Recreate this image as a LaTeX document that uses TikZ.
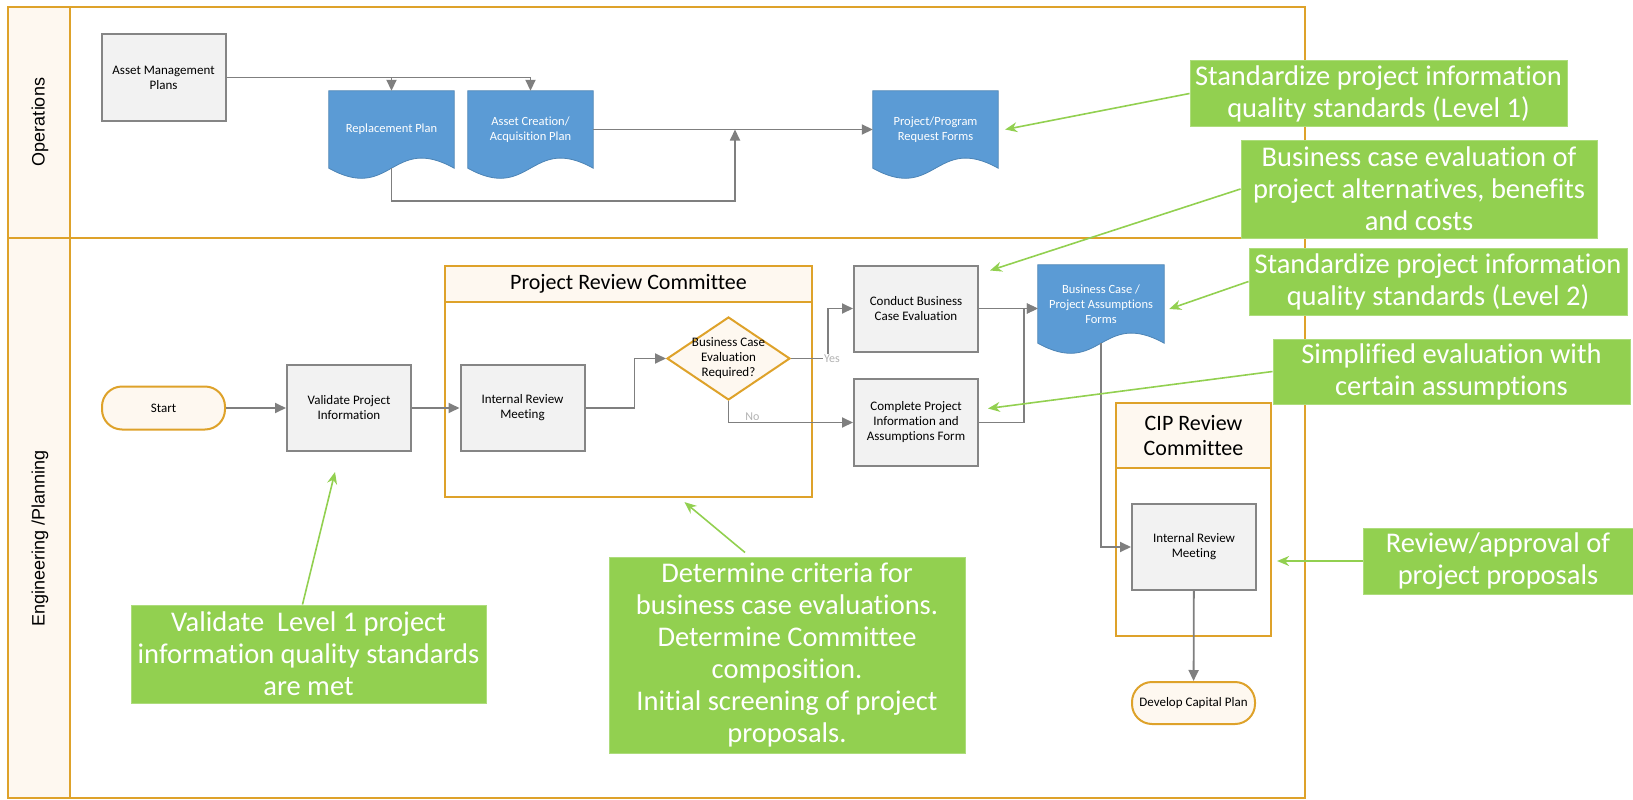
\documentclass[tikz,border=0pt]{standalone}
\usepackage{fontspec}
\setmainfont{Carlito}[Ligatures=NoCommon]
\newfontfamily\lanefont{Liberation Sans}
\usetikzlibrary{shapes.geometric, arrows.meta, positioning, backgrounds, calc}

\definecolor{lanegold}{HTML}{DEA22A}
\definecolor{lanecream}{HTML}{FEF8F0}
\definecolor{procgray}{HTML}{F2F2F2}
\definecolor{procedge}{HTML}{858585}
\definecolor{docblue}{HTML}{5B9BD5}
\definecolor{notegreen}{HTML}{92D050}
\definecolor{flowgray}{HTML}{7F7F7F}

\begin{document}
\begin{tikzpicture}[x=1pt, y=-1pt,
    procbox/.style={draw=procedge, fill=procgray, line width=2pt,
                    minimum width=124pt, minimum height=86pt, inner sep=1pt,
                    font=\fontsize{13}{15}\selectfont, align=center},
    docbox/.style={minimum width=125pt, minimum height=77pt, inner sep=1pt,
                   text=white, font=\fontsize{12.5}{15}\selectfont, align=center},
    termbox/.style={draw=lanegold, fill=lanecream, line width=2pt, rounded corners=20pt,
                    minimum width=123pt, minimum height=43pt, inner sep=1pt,
                    font=\fontsize{13}{15}\selectfont},
    decision/.style={diamond, draw=lanegold, fill=lanecream, line width=2pt,
                     minimum width=123pt, minimum height=83pt, inner sep=0pt},
    groupbox/.style={draw=lanegold, line width=2.2pt, inner sep=0pt},
    headbox/.style={draw=lanegold, fill=lanecream, line width=2.2pt, inner sep=0pt,
                    font=\fontsize{22}{25}\selectfont, align=center},
    notebox/.style={fill=notegreen, draw=notegreen!75!white, line width=1pt, text=white,
                    inner sep=1pt, font=\fontsize{28.5}{32}\selectfont, align=center},
    flow/.style={draw=flowgray, line width=1.8pt, -{Triangle[length=11pt, width=10pt]}},
    noteline/.style={draw=notegreen, line width=1.6pt, -{Stealth[length=12pt, width=10pt]}},
    branch/.style={font=\fontsize{12}{14}\selectfont, text=flowgray!60, inner sep=1pt},
    lanetext/.style={font=\lanefont\fontsize{18}{20}\selectfont, rotate=90}
  ]
  \useasboundingbox (0,0) rectangle (1633,800);

  \begin{scope}[on background layer]
    \fill[lanecream] (8,7) rectangle (70,798);
    \draw[lanegold, line width=2.2pt] (8,7) rectangle (1305,798);
    \draw[lanegold, line width=2.2pt] (70,7) -- (70,798);
    \draw[lanegold, line width=2.2pt] (8,238) -- (1305,238);
  \end{scope}

  \node[lanetext] (opslbl) at (40,122) {Operations};
  \node[lanetext] (englbl) at (40,538) {Engineering /Planning};

  \node[procbox] (amp) at (163.5,77.5) {Asset Management\\Plans};
  \node[docbox] (rp) at (391.5,129.5) {Replacement Plan};
  \node[docbox] (acp) at (530.5,129.5) {Asset Creation/\\Acquisition Plan};
  \node[docbox] (prf) at (935.5,129.5) {Project/Program\\Request Forms};
  \coordinate (merge) at (735,129.5);

  \node[termbox] (start) at (163.5,408) {Start};
  \node[procbox] (vpi) at (349,408) {Validate Project\\Information};
  \node[groupbox, minimum width=367pt, minimum height=231pt] (prc) at (628.5,381.5) {};
  \node[headbox, minimum width=367pt, minimum height=36pt] (prchead) at (628.5,284) {Project Review Committee};
  \node[procbox] (irm) at (522.5,408) {Internal Review\\Meeting};
  \node[decision] (dia) at (728.5,358.5) {};
  \node[font=\fontsize{13}{15}\selectfont, align=center, inner sep=0pt] (dialbl) at (dia) {Business Case\\Evaluation\\Required?};
  \node[procbox] (cbe) at (916,308.5) {Conduct Business\\Case Evaluation};
  \node[procbox, minimum height=87pt] (cpi) at (916,422.5) {Complete Project\\Information and\\Assumptions Form};
  \node[docbox, minimum width=126pt, minimum height=78pt] (bcf) at (1101,304) {Business Case /\\Project Assumptions\\Forms};
  \node[groupbox, minimum width=155pt, minimum height=233pt] (cip) at (1193.5,519.5) {};
  \node[headbox, minimum width=155pt, minimum height=65pt] (ciphead) at (1193.5,435.5) {CIP Review\\Committee};
  \node[procbox] (cipirm) at (1194,547) {Internal Review\\Meeting};
  \node[termbox, minimum height=42pt] (dcp) at (1193.5,703) {Develop Capital Plan};

  \begin{scope}[on background layer]
    \foreach \d in {rp, acp, prf, bcf}
      \filldraw[fill=docblue, draw=docblue!85!black, line width=0.8pt]
        (\d.south east) -- (\d.north east) -- (\d.north west) -- (\d.south west)
        .. controls ($(\d.south)+(0,35)$) and ($(\d.south)+(0,-35)$) .. (\d.south east) -- cycle;
  \end{scope}

  \draw[flow] (amp.east) -| (rp.north);
  \draw[flow] (amp.east) -| (acp.north);
  \draw[flow] (acp.east) -- (prf.west);
  \draw[flow] (rp.south) -- ++(0,33) -| (merge);
  \draw[flow] (start) -- (vpi);
  \draw[flow] (vpi) -- (irm);
  \draw[flow] (irm.east) -- ++(49,0) |- (dia.west);
  \draw[flow] (dia.east) -- ++(37,0) node[branch, fill=white, xshift=4pt] {Yes} |- (cbe.west);
  \draw[flow] (dia.south) |- node[branch, pos=0.56, anchor=south west] {No} (cpi.west);
  \draw[flow] (cbe.east) -- (cbe.east -| bcf.west);
  \draw[flow] (cpi.east) -- ++(45,0) |- (cbe.east -| bcf.west);
  \draw[flow] (bcf.south) |- (cipirm.west);
  \draw[flow] (cipirm) -- (dcp);

  \node[notebox, minimum width=377pt, minimum height=65pt] (g1) at (1378.5,93.5) {Standardize project information\\quality standards (Level 1)};
  \node[notebox, minimum width=356pt, minimum height=98pt] (g2) at (1419,189) {Business case evaluation of\\project alternatives, benefits\\and costs};
  \node[notebox, minimum width=378pt, minimum height=67pt] (g3) at (1438,281.5) {Standardize project information\\quality standards (Level 2)};
  \node[notebox, minimum width=357pt, minimum height=65pt] (g4) at (1451.5,371.5) {Simplified evaluation with\\certain assumptions};
  \node[notebox, minimum width=270pt, minimum height=66pt] (g5) at (1498,561) {Review/approval of\\project proposals};
  \node[notebox, minimum width=355pt, minimum height=98pt] (g6) at (308.5,654) {Validate~ Level 1 project\\information quality standards\\are met};
  \node[notebox, minimum width=356pt, minimum height=196pt] (g7) at (787,655) {Determine criteria for\\business case evaluations.\\Determine Committee\\composition.\\Initial screening of project\\proposals.};

  \draw[noteline] (g1.west) -- ([xshift=7pt]prf.east);
  \draw[noteline] (g2.west) -- ([xshift=11pt, yshift=-6pt]cbe.north east);
  \draw[noteline] (g3.west) -- ([xshift=5pt, yshift=-5pt]bcf.east);
  \draw[noteline] (g4.west) -- ([xshift=9pt, yshift=14pt]cpi.east);
  \draw[noteline, shorten >=5pt] (g5.west) -- (g5.west -| cip.east);
  \draw[noteline] ([xshift=-6pt]g6.north) -- ([xshift=-14pt, yshift=-20pt]vpi.south);
  \draw[noteline] ([xshift=-42pt, yshift=4pt]g7.north) -- ([xshift=56pt, yshift=-4pt]prc.south);
\end{tikzpicture}
\end{document}
